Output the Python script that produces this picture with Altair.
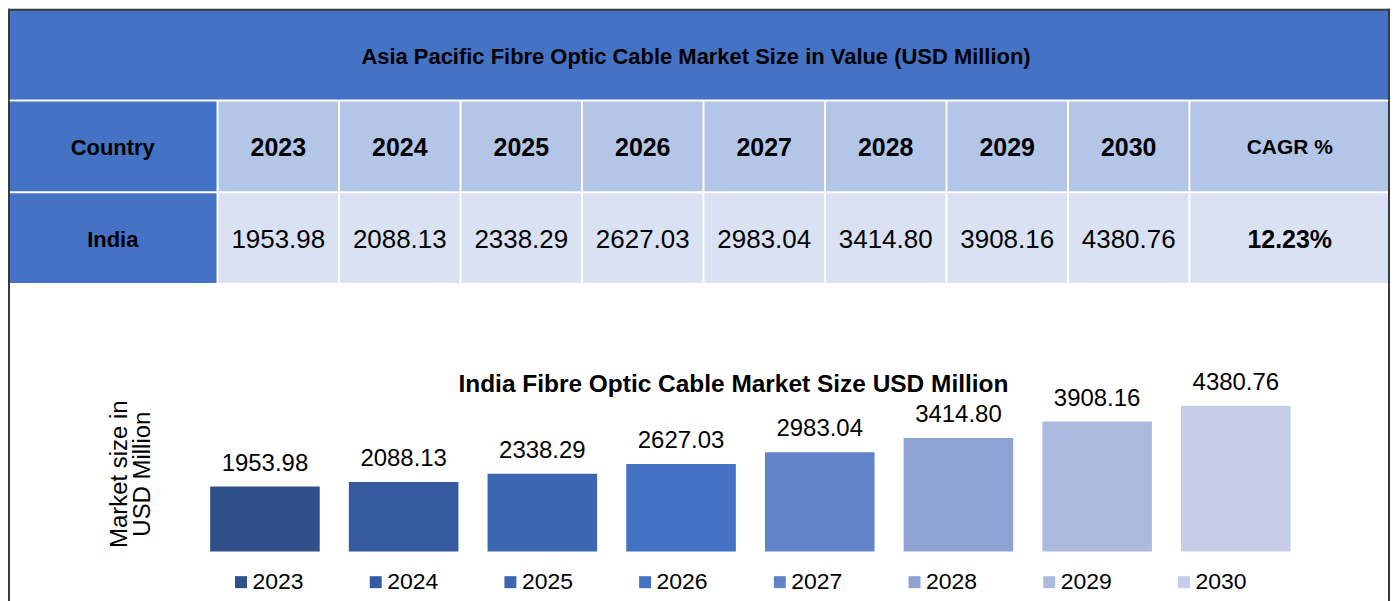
import altair as alt
import pandas as pd

# ---------------- data ----------------
TABLE_TITLE = "Asia Pacific Fibre Optic Cable Market Size in Value (USD Million)"
BAR_TITLE = "India Fibre Optic Cable Market Size USD Million"
COUNTRY_HEADER = "Country"
COUNTRY = "India"
CAGR_HEADER = "CAGR %"
CAGR = "12.23%"
YEARS = ["2023", "2024", "2025", "2026", "2027", "2028", "2029", "2030"]
VALUES = [1953.98, 2088.13, 2338.29, 2627.03, 2983.04, 3414.80, 3908.16, 4380.76]
Y_TITLE = ["Market size in", "USD Million"]
BAR_COLORS = ["#2F5089", "#355A9F", "#3D66B1", "#4472C4",
              "#6183C8", "#8FA3D3", "#ADBADF", "#C5CEE6"]

# ---------------- style ----------------
FONT = "Liberation Sans"
BLUE = "#4472C4"
HEAD = "#B4C6E7"
CELL = "#D9E1F2"
FRAME = "#3A3A3A"

W = 1385
W_COUNTRY = 210
W_YEARS = 974
W_CAGR = 201
H_ROW = 92
H_BAR = 268
ROWS = ["header", "value"]

one = pd.DataFrame({"a": [0]})


def frame_bar(x0, x1, y0, y1):
    # frame line drawn as a filled rect so that it adds no stroke overflow
    return alt.Chart(one).mark_rect(fill=FRAME).encode(
        x=alt.value(x0), x2=alt.value(x1), y=alt.value(y0), y2=alt.value(y1))


row_y = alt.Y("row:N", axis=None, sort=ROWS,
              scale=alt.Scale(paddingInner=2 / 92, paddingOuter=1 / 92))

# ---------------- table title band ----------------
title_df = pd.DataFrame({"k": [TABLE_TITLE]})
tb = alt.Chart(title_df).encode(
    x=alt.X("k:N", axis=None, scale=alt.Scale(paddingInner=0, paddingOuter=0)),
    y=alt.Y("k:N", axis=None, scale=alt.Scale(paddingInner=0, paddingOuter=1 / 90)),
)
title_chart = alt.layer(
    tb.mark_rect(fill=BLUE),
    tb.mark_text(font=FONT, fontSize=22, fontWeight="bold", color="black",
                 baseline="middle", dx=-3, dy=2).encode(text="k:N"),
    frame_bar(0, 2, 0, H_ROW), frame_bar(W - 2, W, 0, H_ROW), frame_bar(0, W, 0, 2),
).properties(width=W, height=H_ROW)

# ---------------- country column ----------------
country_df = pd.DataFrame({"row": ROWS, "text": [COUNTRY_HEADER, COUNTRY], "c": ["c", "c"]})
cb = alt.Chart(country_df).encode(
    x=alt.X("c:N", axis=None, scale=alt.Scale(paddingInner=0, paddingOuter=1 / 208)),
    y=row_y,
)
country_chart = alt.layer(
    cb.mark_rect(fill=BLUE),
    cb.mark_text(font=FONT, fontSize=22, fontWeight="bold", color="black",
                 baseline="middle", dy=2).encode(text="text:N"),
    frame_bar(0, 2, 0, 2 * H_ROW),
).properties(width=W_COUNTRY, height=2 * H_ROW)

# ---------------- year columns ----------------
grid_df = pd.DataFrame({
    "Year": YEARS * 2,
    "row": ["header"] * len(YEARS) + ["value"] * len(YEARS),
    "text": YEARS + [f"{v:.2f}" for v in VALUES],
})
gb = alt.Chart(grid_df).encode(
    x=alt.X("Year:N", axis=None, sort=YEARS,
            scale=alt.Scale(paddingInner=2 / 121.75, paddingOuter=1 / 121.75)),
    y=row_y,
)
years_chart = alt.layer(
    gb.mark_rect(fill=HEAD).transform_filter("datum.row == 'header'"),
    gb.mark_rect(fill=CELL).transform_filter("datum.row == 'value'"),
    gb.mark_text(font=FONT, fontSize=25, fontWeight="bold", color="black",
                 baseline="middle", dy=2).encode(text="text:N").transform_filter("datum.row == 'header'"),
    gb.mark_text(font=FONT, fontSize=26, color="black",
                 baseline="middle", dy=2).encode(text="text:N").transform_filter("datum.row == 'value'"),
).properties(width=W_YEARS, height=2 * H_ROW)

# ---------------- CAGR column ----------------
cagr_df = pd.DataFrame({"row": ROWS, "text": [CAGR_HEADER, CAGR], "c": ["c", "c"]})
gb2 = alt.Chart(cagr_df).encode(
    x=alt.X("c:N", axis=None, scale=alt.Scale(paddingInner=0, paddingOuter=1 / 199)),
    y=row_y,
)
cagr_chart = alt.layer(
    gb2.mark_rect(fill=HEAD).transform_filter("datum.row == 'header'"),
    gb2.mark_rect(fill=CELL).transform_filter("datum.row == 'value'"),
    gb2.mark_text(font=FONT, fontSize=21, fontWeight="bold", color="black",
                  baseline="middle", dy=2).encode(text="text:N").transform_filter("datum.row == 'header'"),
    gb2.mark_text(font=FONT, fontSize=25, fontWeight="bold", color="black",
                  baseline="middle", dy=2).encode(text="text:N").transform_filter("datum.row == 'value'"),
    frame_bar(W_CAGR - 2, W_CAGR, 0, 2 * H_ROW),
).properties(width=W_CAGR, height=2 * H_ROW)

# ---------------- bar chart ----------------
bar_df = pd.DataFrame({
    "Year": YEARS,
    "Value": VALUES,
    "Label": [f"{v:.2f}" for v in VALUES],
})
xenc = alt.X("Year:N", sort=YEARS, axis=None,
             scale=alt.Scale(range=[188, 1300], paddingInner=0.21, paddingOuter=0.105))
yenc = alt.Y(
    "Value:Q",
    scale=alt.Scale(domain=[0, 8040], nice=False, zero=True),
    axis=alt.Axis(
        title=Y_TITLE, labels=False, ticks=False, domain=False, grid=False,
        titleFont=FONT, titleFontSize=24, titleFontWeight="normal",
        titleColor="black", titleAngle=270, titleAlign="center",
        titleBaseline="top", titleX=100, titleY=190, titleLineHeight=23,
    ),
)
bars = alt.Chart(bar_df).mark_bar().encode(
    x=xenc,
    y=yenc,
    color=alt.Color(
        "Year:N", sort=YEARS,
        scale=alt.Scale(domain=YEARS, range=BAR_COLORS),
        legend=alt.Legend(
            title=None, orient="none", legendX=222, legendY=287,
            direction="horizontal", columns=8, columnPadding=60,
            symbolType="square", symbolSize=144, symbolStrokeWidth=0,
            labelFont=FONT, labelFontSize=23, labelColor="black",
            labelOffset=0, padding=0,
        ),
    ),
)
labels = alt.Chart(bar_df).mark_text(
    font=FONT, fontSize=24, color="black", baseline="alphabetic", dy=-16
).encode(x=xenc, y=yenc, text="Label:N")

bt_df = pd.DataFrame({"t": [BAR_TITLE]})
bar_title = alt.Chart(bt_df).mark_text(
    font=FONT, fontSize=24.5, fontWeight="bold", color="black",
    baseline="alphabetic", align="center"
).encode(x=alt.value(727), y=alt.value(108), text="t:N")

bar_chart = alt.layer(
    bars, labels, bar_title,
    frame_bar(0, 2, 0, 330), frame_bar(W - 2, W, 0, 330),
).properties(width=W, height=H_BAR)

row_chart = alt.hconcat(country_chart, years_chart, cagr_chart,
                        spacing=0, bounds="flush")

chart = alt.vconcat(
    title_chart, row_chart, bar_chart, spacing=0
).resolve_scale(
    x="independent", y="independent", color="independent"
).properties(
    padding=0, background="white"
).configure_view(
    stroke="transparent", strokeWidth=0
)

chart.save("out.html", embed_options={"renderer": "svg", "actions": False})
